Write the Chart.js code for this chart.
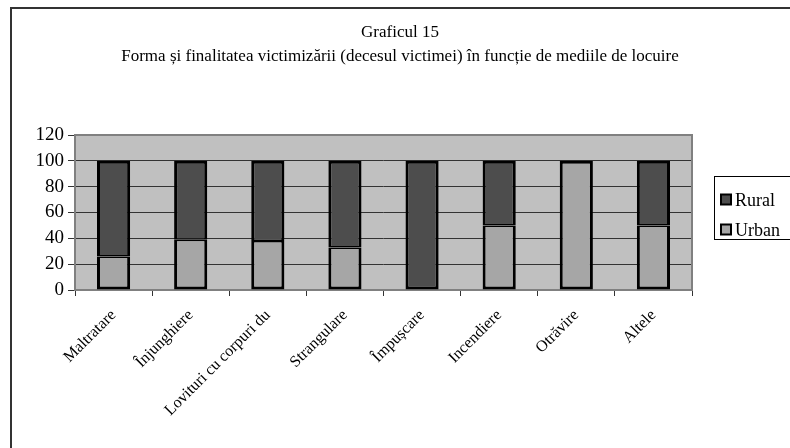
<!DOCTYPE html>
<html>
<head>
<meta charset="utf-8">
<script src="https://cdn.jsdelivr.net/npm/chart.js@4.4.1/dist/chart.umd.min.js"></script>
<style>
  html, body { margin: 0; padding: 0; background: #fff; width: 790px; height: 448px; overflow: hidden; }
  #frame { position: absolute; left: 10px; top: 7px; width: 800px; height: 460px; border-left: 2px solid #333; border-top: 2px solid #333; box-sizing: border-box; }
  #wrap { position: absolute; left: 0; top: 0; width: 790px; height: 448px; }
</style>
</head>
<body>
<div id="frame"></div>
<div id="wrap"><canvas id="c" width="790" height="448"></canvas></div>
<script>
const titleLines = ['Graficul 15', 'Forma și finalitatea victimizării (decesul victimei) în funcție de mediile de locuire'];
const categories = ['Maltratare', 'Înjunghiere', 'Lovituri cu corpuri du', 'Strangulare', 'Împușcare', 'Incendiere', 'Otrăvire', 'Altele'];
const urban = [26, 39, 38, 33, 0, 50, 100, 50];
const rural = [74, 61, 62, 67, 100, 50, 0, 50];
const seriesNames = ['Urban', 'Rural'];
const yTicks = [0, 20, 40, 60, 80, 100, 120];

const FONT = "'Liberation Serif', 'Times New Roman', serif";

const plotBg = {
  id: 'plotBg',
  beforeDraw(chart) {
    const a = chart.chartArea, ctx = chart.ctx;
    ctx.save();
    ctx.fillStyle = '#c0c0c0';
    ctx.fillRect(a.left, a.top, a.right - a.left, a.bottom - a.top);
    ctx.restore();
  },
  beforeDatasetsDraw(chart) {
    const a = chart.chartArea, ctx = chart.ctx;
    ctx.save();
    ctx.strokeStyle = '#808080';
    ctx.lineWidth = 2;
    ctx.strokeRect(a.left, a.top, a.right - a.left, a.bottom - a.top);
    ctx.restore();
  }
};

const textTitle = {
  id: 'textTitle',
  afterDraw(chart) {
    const ctx = chart.ctx;
    ctx.save();
    ctx.fillStyle = '#000';
    ctx.font = '17px ' + FONT;
    ctx.textAlign = 'center';
    ctx.textBaseline = 'middle';
    ctx.fillText(titleLines[0], 400, 33);
    ctx.fillText(titleLines[1], 400, 57);
    ctx.restore();
  }
};

const boxLegend = {
  id: 'boxLegend',
  afterDraw(chart) {
    const ctx = chart.ctx;
    const ds = chart.data.datasets;
    ctx.save();
    ctx.strokeStyle = '#000';
    ctx.lineWidth = 1;
    ctx.strokeRect(714.5, 176.5, 90, 63);
    const order = [1, 0];
    const ys = [199.5, 229.5];
    order.forEach((di, i) => {
      const y = ys[i];
      ctx.fillStyle = ds[di].backgroundColor;
      ctx.fillRect(721, y - 5, 10, 10);
      ctx.strokeStyle = '#000';
      ctx.lineWidth = 2;
      ctx.strokeRect(721, y - 5, 10, 10);
      ctx.fillStyle = '#000';
      ctx.font = '18px ' + FONT;
      ctx.textBaseline = 'alphabetic';
      ctx.textAlign = 'left';
      ctx.fillText(ds[di].label, 735, y + 6);
    });
    ctx.restore();
  }
};

new Chart(document.getElementById('c'), {
  type: 'bar',
  data: {
    labels: categories,
    datasets: [
      { label: seriesNames[0], data: urban, backgroundColor: '#a6a6a6', borderColor: '#000', borderSkipped: false,
        borderWidth: (c) => ({ left: 3, right: 3, bottom: 3, top: (rural[c.dataIndex] > 0 ? 1.5 : 3) }) },
      { label: seriesNames[1], data: rural, backgroundColor: '#4d4d4d', borderColor: '#000', borderSkipped: false,
        borderWidth: (c) => ({ left: 3, right: 3, top: 3, bottom: (urban[c.dataIndex] > 0 ? 1.5 : 3) }) }
    ]
  },
  options: {
    responsive: false,
    animation: false,
    layout: { padding: { left: 0, right: 98, top: 135, bottom: 0 } },
    datasets: { bar: { categoryPercentage: 1, barPercentage: 0.43 } },
    plugins: {
      legend: { display: false },
      tooltip: { enabled: false },
      title: { display: false }
    },
    scales: {
      x: {
        stacked: true,
        offset: true,
        grid: { display: true, offset: true, drawOnChartArea: false, drawTicks: true, tickLength: 6, color: '#333', lineWidth: 1 },
        border: { display: false },
        ticks: { color: '#000', font: { family: FONT, size: 16 }, autoSkip: false, maxRotation: 45, minRotation: 45, padding: 10 },
        afterFit(s) { s.height = 158; }
      },
      y: {
        stacked: true,
        min: 0, max: 120,
        afterBuildTicks(s) { s.ticks = yTicks.map(v => ({ value: v })); },
        grid: { color: '#333', lineWidth: 1, tickLength: 7, drawTicks: true },
        border: { display: false },
        ticks: { color: '#000', font: { family: FONT, size: 19 }, padding: 4 },
        afterFit(s) { s.width = 75; }
      }
    }
  },
  plugins: [plotBg, textTitle, boxLegend]
});
</script>
</body>
</html>
